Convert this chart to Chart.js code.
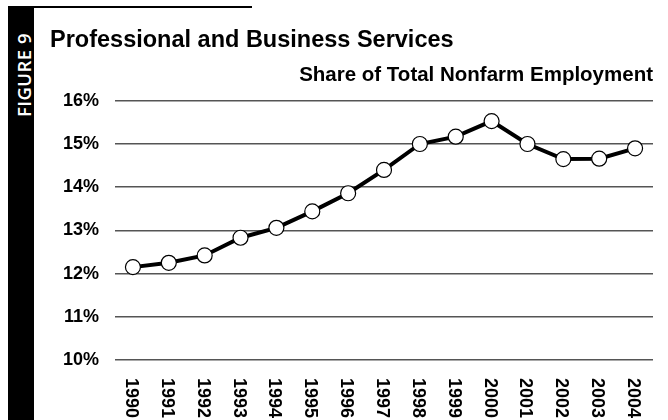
<!DOCTYPE html>
<html>
<head>
<meta charset="utf-8">
<script src="https://cdn.jsdelivr.net/npm/chart.js@4/dist/chart.umd.min.js"></script>
<style>
  html, body { margin: 0; padding: 0; background: #fff; }
  body { width: 668px; height: 420px; position: relative; overflow: hidden; }
  #bar { position: absolute; left: 8px; top: 6px; width: 26px; height: 414px; background: #000; }
  #rule { position: absolute; left: 34px; top: 6px; width: 218px; height: 2px; background: #000; }
  #fig {
    position: absolute; left: 21px; top: 75px; width: 120px; height: 20px;
    margin-left: -60px; margin-top: -10px; line-height: 20px; text-align: center;
    color: #fff; font: 600 18.5px "Open Sans", sans-serif; letter-spacing: 0.5px;
    transform: rotate(-90deg);
  }
  #c { position: absolute; left: 0; top: 0; }
</style>
</head>
<body>
<div id="bar"></div>
<div id="rule"></div>
<div id="fig">FIGURE 9</div>
<canvas id="c" width="668" height="420"></canvas>
<script>
const years = ['1990', '1991', '1992', '1993', '1994', '1995', '1996', '1997',
               '1998', '1999', '2000', '2001', '2002', '2003', '2004'];
const share = [12.15, 12.25, 12.42, 12.83, 13.06, 13.44, 13.86, 14.40,
               15.00, 15.17, 15.53, 15.00, 14.65, 14.66, 14.90];
const yTicks = [10, 11, 12, 13, 14, 15, 16];

const titleText = 'Professional and Business Services';
const subtitleText = 'Share of Total Nonfarm Employment';
const fontFamily = '"Liberation Sans", Arial, sans-serif';

// year labels run top-to-bottom, so they are drawn here instead of by the axis
const xLabels = {
    id: 'xLabels',
    afterDraw(chart) {
        const ctx = chart.ctx;
        const x = chart.scales.x;
        ctx.save();
        ctx.font = 'bold 18px ' + fontFamily;
        ctx.fillStyle = '#000';
        ctx.textAlign = 'left';
        ctx.textBaseline = 'middle';
        years.forEach((yr, i) => {
            ctx.save();
            ctx.translate(x.getPixelForValue(i) - 2, x.top + 18);
            ctx.rotate(Math.PI / 2);
            ctx.fillText(yr, 0, 0);
            ctx.restore();
        });
        ctx.restore();
    }
};

new Chart(document.getElementById('c'), {
    type: 'line',
    data: {
        labels: years,
        datasets: [{
            data: share,
            borderColor: '#000',
            borderWidth: 4,
            tension: 0,
            pointRadius: 7.5,
            pointHoverRadius: 7.5,
            pointBackgroundColor: '#fff',
            pointBorderColor: '#000',
            pointBorderWidth: 1.2
        }]
    },
    options: {
        responsive: false,
        animation: false,
        devicePixelRatio: 1,
        layout: { padding: { left: 50, right: 15, top: 0, bottom: 0 } },
        plugins: {
            legend: { display: false },
            tooltip: { enabled: false },
            title: {
                display: true,
                text: titleText,
                align: 'start',
                color: '#000',
                font: { family: fontFamily, size: 23.5, weight: 'bold', lineHeight: 1.2 },
                padding: { top: 26, bottom: 0 }
            },
            subtitle: {
                display: true,
                text: subtitleText,
                align: 'end',
                color: '#000',
                font: { family: fontFamily, size: 20.5, weight: 'bold', lineHeight: 1.2 },
                padding: { top: 9, bottom: 13 }
            }
        },
        scales: {
            x: {
                offset: true,
                grid: { display: false },
                border: { display: false },
                ticks: { display: false },
                afterFit(scale) { scale.height = 60; }
            },
            y: {
                min: 10,
                max: 16,
                afterBuildTicks(scale) { scale.ticks = yTicks.map(v => ({ value: v })); },
                grid: { color: '#555', lineWidth: 1.6, drawTicks: false },
                border: { display: false },
                ticks: {
                    color: '#000',
                    padding: 16,
                    font: { family: fontFamily, size: 18, weight: 'bold' },
                    callback: v => v + '%'
                },
                afterFit(scale) { scale.width = 65; }
            }
        }
    },
    plugins: [xLabels]
});
</script>
</body>
</html>
